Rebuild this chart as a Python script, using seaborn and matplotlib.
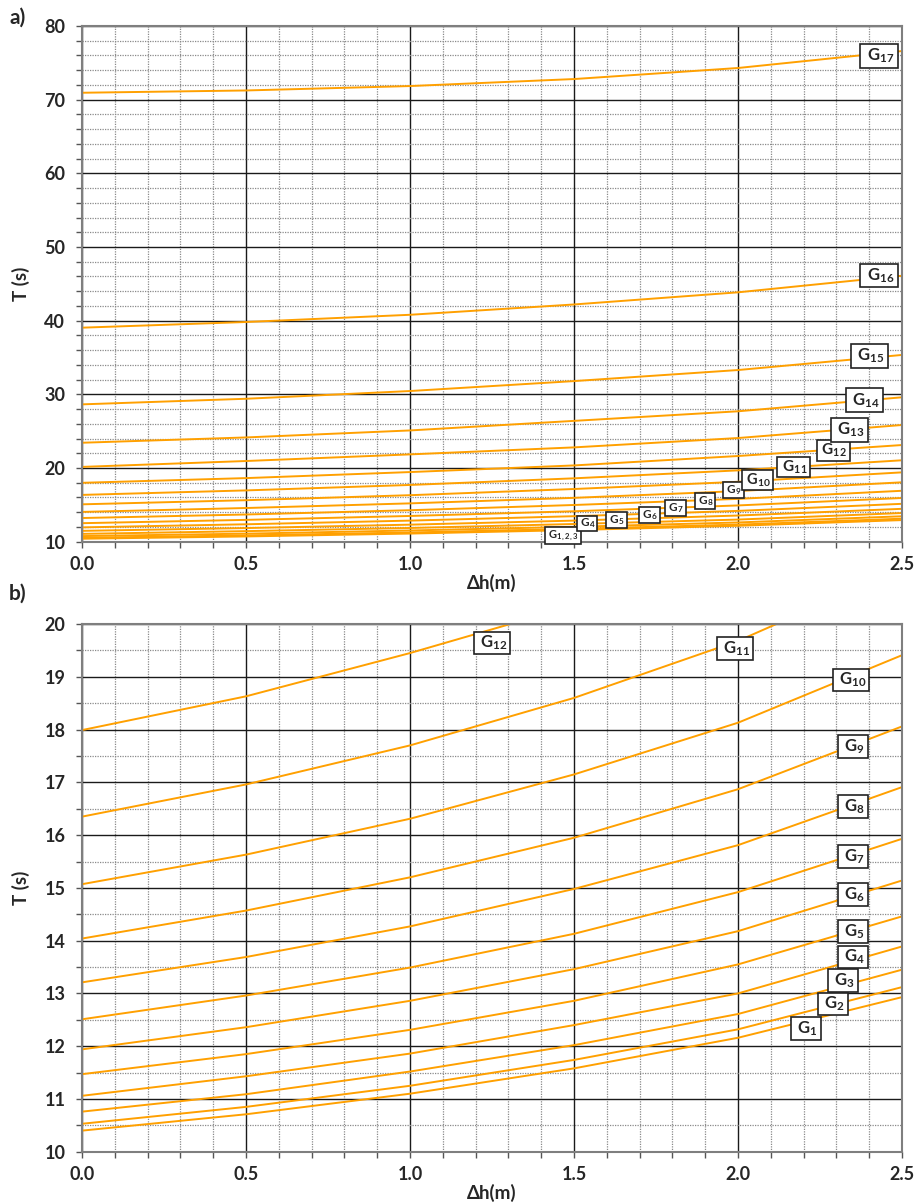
import numpy as np
import pandas as pd
import matplotlib
matplotlib.use("Agg")
import matplotlib.pyplot as plt
from matplotlib.ticker import MultipleLocator, FormatStrFormatter
import seaborn as sns

# ---------------- data ----------------
dh = [0.0, 0.5, 1.0, 1.5, 2.0, 2.5]
G1 = [10.40, 10.71, 11.10, 11.58, 12.16, 12.93]
G2 = [10.53, 10.85, 11.25, 11.74, 12.32, 13.12]
G3 = [10.76, 11.09, 11.52, 12.02, 12.61, 13.45]
G4 = [11.06, 11.43, 11.86, 12.40, 13.00, 13.89]
G5 = [11.47, 11.85, 12.31, 12.86, 13.55, 14.46]
G6 = [11.94, 12.36, 12.86, 13.46, 14.18, 15.14]
G7 = [12.51, 12.96, 13.49, 14.13, 14.92, 15.93]
G8 = [13.21, 13.69, 14.27, 14.98, 15.81, 16.91]
G9 = [14.04, 14.57, 15.20, 15.95, 16.87, 18.06]
G10 = [15.07, 15.63, 16.31, 17.15, 18.13, 19.41]
G11 = [16.35, 16.96, 17.70, 18.60, 19.68, 21.05]
G12 = [17.99, 18.63, 19.45, 20.35, 21.63, 23.12]
G13 = [20.15, 20.95, 21.85, 22.80, 24.07, 25.84]
G14 = [23.43, 24.15, 25.10, 26.40, 27.70, 29.60]
G15 = [28.64, 29.40, 30.45, 31.80, 33.30, 35.35]
G16 = [39.05, 39.82, 40.80, 42.20, 43.85, 46.10]
G17 = [70.94, 71.25, 71.85, 72.80, 74.30, 76.60]

curve_names = ["G1", "G2", "G3", "G4", "G5", "G6", "G7", "G8", "G9",
               "G10", "G11", "G12", "G13", "G14", "G15", "G16", "G17"]
curve_values = [G1, G2, G3, G4, G5, G6, G7, G8, G9, G10, G11, G12,
                G13, G14, G15, G16, G17]

labels_a = ["1,2,3", "4", "5", "6", "7", "8", "9", "10", "11", "12",
            "13", "14", "15", "16", "17"]
labels_b = ["1", "2", "3", "4", "5", "6", "7", "8", "9", "10", "11", "12"]

# ---------------- layout (label placement) ----------------
pos_a = [(1.466, 10.83), (1.54, 12.47), (1.63, 12.97), (1.73, 13.64),
         (1.81, 14.60), (1.90, 15.55), (1.986, 17.0), (2.06, 18.33),
         (2.17, 20.16), (2.29, 22.40), (2.34, 25.18), (2.385, 29.19),
         (2.40, 35.22), (2.43, 46.12), (2.43, 75.93)]
size_a = [8, 8.5, 8.5, 8.5, 8.5, 8.5, 8.5, 10.5, 11, 11, 12, 12, 12, 12, 12]
pad_a = [0.1, 0.08, 0.08, 0.08, 0.08, 0.08, 0.08, 0.1, 0.1, 0.1,
         0.15, 0.15, 0.15, 0.15, 0.15]
pos_b = [(2.207, 12.33), (2.29, 12.80), (2.32, 13.25), (2.35, 13.69),
         (2.35, 14.17), (2.35, 14.87), (2.35, 15.59), (2.35, 16.54),
         (2.35, 17.68), (2.345, 18.94), (1.99, 19.54), (1.25, 19.64)]

rows = []
for name, vals in zip(curve_names, curve_values):
    for x, y in zip(dh, vals):
        rows.append({"dh": x, "T": y, "curve": name})
df = pd.DataFrame(rows)
df_b = df[df["curve"].isin(curve_names[:12])]

sns.set_theme(style="white")
plt.rcParams["font.family"] = ["Lato", "DejaVu Sans"]
plt.rcParams["font.weight"] = "bold"
plt.rcParams["mathtext.default"] = "regular"

fig = plt.figure(figsize=(9.17, 12.04), dpi=100)
ax_a = fig.add_axes([0.0894, 0.5501, 0.8943, 0.4283])
ax_b = fig.add_axes([0.0894, 0.0434, 0.8943, 0.4383])

ORANGE = "#FFA000"


def style_axis(ax, ymin, ymax, ymaj, ymin_step):
    ax.set_xlim(0, 2.5)
    ax.set_ylim(ymin, ymax)
    ax.xaxis.set_major_locator(MultipleLocator(0.5))
    ax.xaxis.set_minor_locator(MultipleLocator(0.1))
    ax.yaxis.set_major_locator(MultipleLocator(ymaj))
    ax.yaxis.set_minor_locator(MultipleLocator(ymin_step))
    ax.xaxis.set_major_formatter(FormatStrFormatter("%.1f"))
    ax.grid(which="major", color="#1a1a1a", linestyle="-", linewidth=1.0)
    ax.grid(which="minor", color="#8a8a8a", linestyle=(0, (1, 1)), linewidth=0.9)
    ax.set_axisbelow(True)
    for s in ax.spines.values():
        s.set_color("#7f7f7f")
        s.set_linewidth(1.5)
    ax.tick_params(which="both", direction="out", color="#555555",
                   bottom=True, left=True)
    ax.tick_params(which="major", length=4, width=1, labelsize=13)
    ax.tick_params(axis="x", which="major", pad=6)
    ax.tick_params(axis="y", which="major", pad=8)
    ax.tick_params(which="minor", length=4, width=1)
    ax.set_xlabel("\u0394h(m)", fontsize=13.5, fontweight="bold", labelpad=1)
    ax.set_ylabel("T (s)", fontsize=13.5, fontweight="bold", labelpad=10)


def add_label(ax, x, y, sub, size, pad, spaced=True):
    txt = "G$_{" + sub + "}$"
    if spaced:
        txt = " " + txt + " "
    ax.text(x, y, txt, fontsize=size, fontweight="bold",
            ha="center", va="center", zorder=5,
            bbox=dict(boxstyle=f"square,pad={pad}", fc="white", ec="#222222", lw=1.2))


# ---------- panel a ----------
sns.lineplot(data=df, x="dh", y="T", units="curve", estimator=None,
             color=ORANGE, linewidth=1.4, ax=ax_a, legend=False)
style_axis(ax_a, 10, 80, 10, 2)
for sub, (x, y), s, p in zip(labels_a, pos_a, size_a, pad_a):
    add_label(ax_a, x, y, sub, s, p)

# ---------- panel b ----------
sns.lineplot(data=df_b, x="dh", y="T", units="curve", estimator=None,
             color=ORANGE, linewidth=1.4, ax=ax_b, legend=False)
style_axis(ax_b, 10, 20, 1, 0.5)
for sub, (x, y) in zip(labels_b, pos_b):
    add_label(ax_b, x, y, sub, 12, 0.12)

for ax in (ax_a, ax_b):
    for lab in ax.get_xticklabels() + ax.get_yticklabels():
        lab.set_fontweight("bold")

fig.text(0.010, 0.985, "a)", fontsize=15, fontweight="bold", ha="left", va="center")
fig.text(0.010, 0.507, "b)", fontsize=15, fontweight="bold", ha="left", va="center")

fig.savefig("out.png", dpi=100)
